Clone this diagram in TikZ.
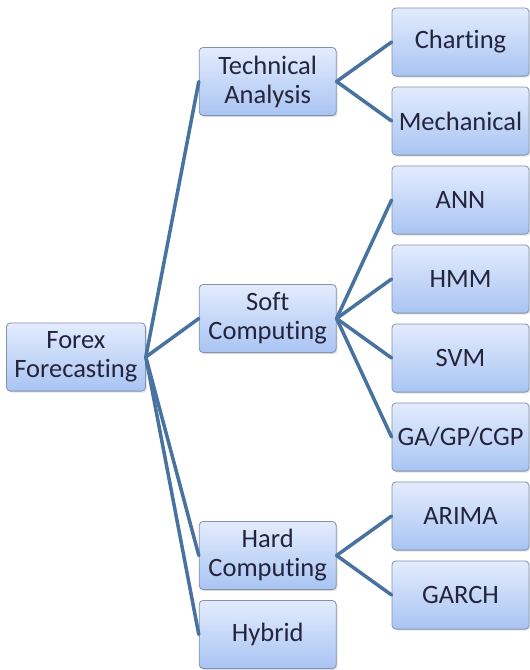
\documentclass[tikz,border=0pt]{standalone}
\usepackage{fontspec}
\setmainfont{Carlito}[Ligatures=NoCommon]
\usetikzlibrary{positioning,calc,shadows}
\definecolor{linkblue}{HTML}{4872A0}
\definecolor{boxtop}{HTML}{E3ECFD}
\definecolor{boxbottom}{HTML}{A9C4F3}
\definecolor{boxedge}{HTML}{8393AC}
\definecolor{ink}{HTML}{24243C}

\tikzset{
  box/.style={draw=boxedge, line width=0.8pt, rounded corners=4pt,
    top color=boxtop, bottom color=boxbottom, text=ink,
    minimum width=137pt, minimum height=68.2pt, inner sep=2pt,
    align=center, font=\fontsize{26.5}{29}\selectfont,
    drop shadow={opacity=0.22, shadow xshift=1.5pt, shadow yshift=-1.5pt}},
  link/.style={draw=linkblue, line width=3.5pt, line cap=round}
}

\begin{document}
\begin{tikzpicture}[x=1pt, y=1pt, node distance=10pt]
  \useasboundingbox (0,0) rectangle (530,-670);
  % Define leaf column
  \node[box] (chart) at (460.5,-42) {Charting};
  \node[box, below=of chart] (mech) {Mechanical};
  \node[box, below=of mech] (ann) {ANN};
  \node[box, below=of ann] (hmm) {HMM};
  \node[box, below=of hmm] (svm) {SVM};
  \node[box, below=of svm] (ga) {GA/GP/CGP};
  \node[box, below=of ga] (arima) {ARIMA};
  \node[box, below=of arima] (garch) {GARCH};
  % Define branch column
  \node[box, left=55pt of $(chart.west)!0.5!(mech.west)$] (tech) {Technical\\Analysis};
  \node[box, left=55pt of $(ann.west)!0.5!(ga.west)$] (soft) {Soft\\Computing};
  \node[box, left=55pt of $(arima.west)!0.5!(garch.west)$] (hard) {Hard\\Computing};
  \node[box, below=10pt of hard] (hybrid) {Hybrid};
  % Define root
  \node[box, minimum width=139pt, left=53pt of soft, yshift=-38.5pt] (forex) {Forex\\Forecasting};
  % Define edges
  \foreach \branch in {tech,soft,hard,hybrid}
    \draw[link] (forex.east) -- (\branch.west);
  \draw[link] (tech.east) -- (chart.west);
  \draw[link] (tech.east) -- (mech.west);
  \foreach \leaf in {ann,hmm,svm,ga}
    \draw[link] (soft.east) -- (\leaf.west);
  \draw[link] (hard.east) -- (arima.west);
  \draw[link] (hard.east) -- (garch.west);
\end{tikzpicture}
\end{document}
